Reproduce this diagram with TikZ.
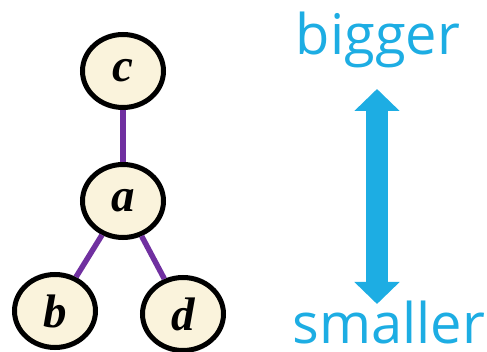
\documentclass[tikz,border=0pt]{standalone}
\usepackage{fontspec}
\setmainfont{Liberation Serif}
\newfontfamily\labelfont{Open Sans}
\usetikzlibrary{arrows.meta,shapes.geometric}
\definecolor{creamfill}{HTML}{FAF3DC}
\definecolor{edgepurple}{HTML}{7030A0}
\definecolor{skyblue}{HTML}{1DADE3}

\begin{document}
\begin{tikzpicture}[x=1pt,y=-1pt, vertex/.style={ellipse,draw=black,fill=creamfill,line width=5pt,minimum width=81pt,minimum height=73pt,inner sep=0pt,font=\fontsize{47}{47}\selectfont\bfseries\itshape}, tree/.style={edgepurple,line width=5.5pt}, word/.style={skyblue,anchor=base,inner sep=0pt,font=\labelfont\fontsize{56}{56}\selectfont}]
\useasboundingbox (0,0) rectangle (487,352);
\node[vertex] (c) at (123,71) {c};
\node[vertex] (a) at (123,201) {a};
\node[vertex] (b) at (55,311) {b};
\node[vertex] (d) at (183,314) {d};
\draw[tree] (c) -- (a);
\draw[tree] (a) -- (b);
\draw[tree] (a) -- (d);
\node[word] (big) at (378,55) {bigger};
\node[word] (small) at (389,344) {smaller};
\coordinate (top) at (377,89);
\coordinate (bot) at (377,304);
\draw[skyblue,line width=22pt,{Triangle[width=44pt,length=22pt]}-{Triangle[width=44pt,length=22pt]}] (top) -- (bot);
\end{tikzpicture}
\end{document}
